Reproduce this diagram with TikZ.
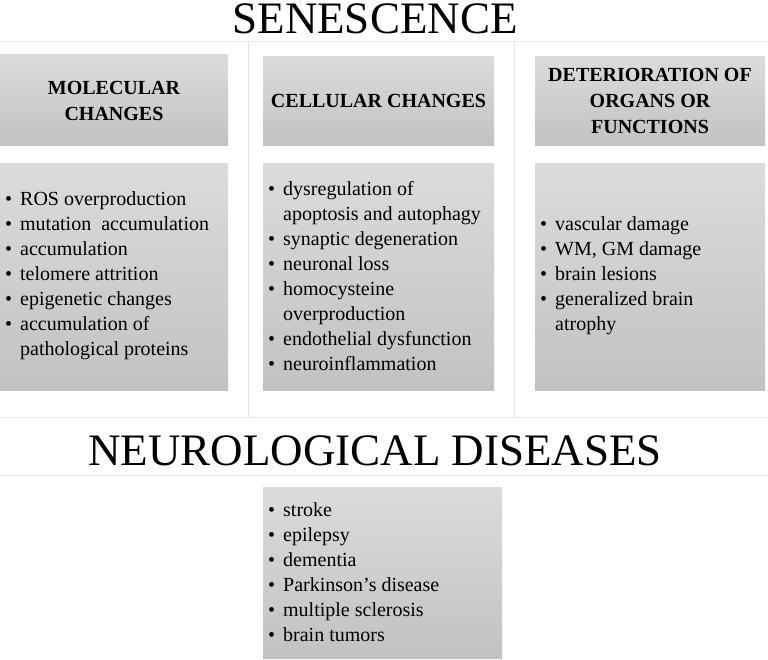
\documentclass[tikz,border=0pt]{standalone}
\usepackage{fontspec}
\setmainfont{Liberation Serif}
\newcommand{\bl}[1]{\makebox[15pt][l]{\textbullet}#1\\}
\newcommand{\blz}[1]{\makebox[15pt][l]{\textbullet}#1}
\newcommand{\cl}[1]{\hspace*{15pt}#1\\}
\newcommand{\clz}[1]{\hspace*{15pt}#1}
\begin{document}
\begin{tikzpicture}[x=1pt,y=-1pt,
  gbox/.style={top color=gray!28,bottom color=gray!48,draw=none},
  sep/.style={draw=gray!20,line width=1pt},
  txt/.style={font=\fontsize{20}{25}\selectfont,align=left,anchor=west,inner sep=0pt},
  hdr/.style={font=\bfseries\fontsize{20}{26}\selectfont,align=center,inner sep=0pt}]
\useasboundingbox (0,0) rectangle (768,660);
\draw[sep] (0,42) -- (768,42);
\draw[sep] (0,417) -- (768,417);
\draw[sep] (0,475) -- (768,475);
\draw[sep] (248,42) -- (248,417);
\draw[sep] (514,42) -- (514,417);
\node[font=\fontsize{45}{45}\selectfont,inner sep=0pt,anchor=base] (t1) at (375,34) {SENESCENCE};
\node[font=\fontsize{45}{45}\selectfont,inner sep=0pt,anchor=base] (t2) at (375,465) {NEUROLOGICAL DISEASES};
\fill[gbox] (0,55) rectangle (228,146);
\fill[gbox] (263,57) rectangle (494,146);
\fill[gbox] (535,57) rectangle (765,146);
\fill[gbox] (0,164) rectangle (228,390);
\fill[gbox] (263,164) rectangle (494,390);
\fill[gbox] (535,164) rectangle (765,390);
\fill[gbox] (263,487) rectangle (502,658);
\node[hdr] (h1) at (114,101) {MOLECULAR\\CHANGES};
\node[hdr] (h2) at (378.5,101) {CELLULAR CHANGES};
\node[hdr] (h3) at (650,101) {DETERIORATION OF\\ORGANS OR\\FUNCTIONS};
\node[txt] (c1) at (5,276) {\bl{ROS overproduction}\bl{mutation\ \ accumulation}\bl{accumulation}\bl{telomere attrition}\bl{epigenetic changes}\bl{accumulation of}\clz{pathological proteins}};
\node[txt] (c2) at (268,276) {\bl{dysregulation of}\cl{apoptosis and autophagy}\bl{synaptic degeneration}\bl{neuronal loss}\bl{homocysteine}\cl{overproduction}\bl{endothelial dysfunction}\blz{neuroinflammation}};
\node[txt] (c3) at (540,276) {\bl{vascular damage}\bl{WM, GM damage}\bl{brain lesions}\bl{generalized brain}\clz{atrophy}};
\node[txt] (c4) at (268,572) {\bl{stroke}\bl{epilepsy}\bl{dementia}\bl{Parkinson’s disease}\bl{multiple sclerosis}\blz{brain tumors}};
\end{tikzpicture}
\end{document}
